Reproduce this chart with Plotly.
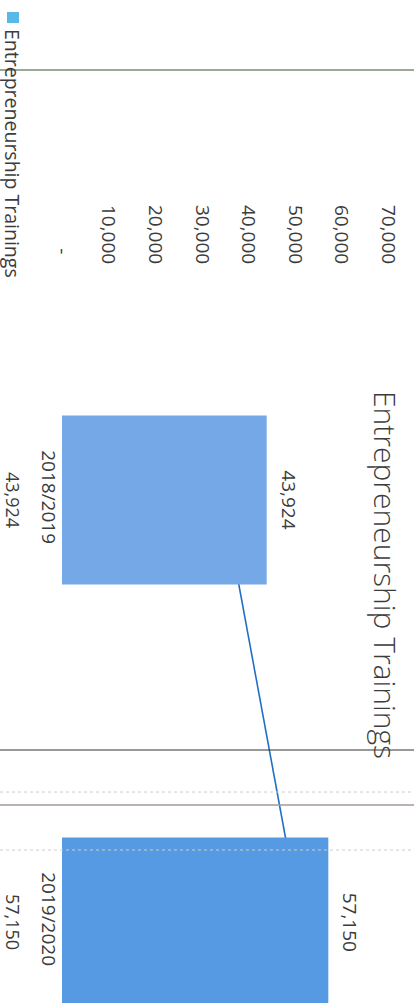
import plotly.graph_objects as go

# ---- data ----
categories = ["2018/2019", "2019/2020"]
trainings = [43924, 57150]
line_values = [34600, 51300]          # blue connecting line as seen on the scan
value_ticks = [0, 10000, 20000, 30000, 40000, 50000, 60000, 70000]
value_tick_labels = ["-\u00a0\u00a0", "10,000", "20,000", "30,000", "40,000", "50,000", "60,000", "70,000"]
series_name = "Entrepreneurship Trainings"
chart_title = "Entrepreneurship Trainings"

bar_colors = ["#74a8e6", "#559ae2"]
text_color = "#3c3c3c"
font_family = "Open Sans"

W, H = 414, 1003
L, R, T, B = 62, 0, 268, 0
plot_w = W - L - R
plot_h = H - T - B
px_per_unit = 46.6 / 10000
x_range = [0, plot_w / px_per_unit]

# category positions (pixel centres) -> axis range
cat_px = 422
c0 = 500
y_top = 0 - (c0 - T) / cat_px
y_bot = 1 + (H - (c0 + cat_px)) / cat_px
y_range = [y_bot, y_top]

def px_x(p):
    return (p - L) / plot_w

def px_y(p):
    return (H - B - p) / plot_h

fig = go.Figure()

# line (underneath the bars)
fig.add_trace(go.Scatter(
    x=line_values, y=categories, mode="lines",
    line=dict(color="#1f6fc4", width=1.6),
    xaxis="x", yaxis="y", showlegend=False, hoverinfo="skip",
))

# bars on overlay axes so they are drawn on top of the line
fig.add_trace(go.Bar(
    x=trainings, y=categories, orientation="h", name=series_name,
    marker=dict(color=bar_colors, line=dict(width=0)),
    xaxis="x2", yaxis="y2", showlegend=False,
))

annotations = []
for c, v in zip(categories, trainings):
    # data labels
    annotations.append(dict(
        x=v, y=c, xref="x2", yref="y2", text=f"{v:,}", showarrow=False,
        textangle=90, xanchor="center", yanchor="middle", xshift=22,
        font=dict(family=font_family, size=19, color=text_color),
    ))
    # data-table value row
    annotations.append(dict(
        x=px_x(13), y=c, xref="paper", yref="y", text=f"{v:,}", showarrow=False,
        textangle=90, xanchor="center", yanchor="middle",
        font=dict(family=font_family, size=18, color=text_color),
    ))

# title
annotations.append(dict(
    x=px_x(386), y=px_y(575), xref="paper", yref="paper", text=chart_title,
    showarrow=False, textangle=90, xanchor="center", yanchor="middle",
    font=dict(family=font_family, size=30, color=text_color, weight=300),
))
# legend text
annotations.append(dict(
    x=px_x(13), y=px_y(153), xref="paper", yref="paper", text=series_name,
    showarrow=False, textangle=90, xanchor="center", yanchor="middle",
    font=dict(family=font_family, size=19.5, color=text_color),
))

shapes = [
    # legend key
    dict(type="rect", xref="paper", yref="paper",
         x0=px_x(7), x1=px_x(19), y0=px_y(23), y1=px_y(12),
         fillcolor="#5ab8e8", line=dict(width=0)),
    # table / border lines from the scan
    dict(type="line", xref="paper", yref="paper", x0=px_x(0), x1=px_x(W),
         y0=px_y(70), y1=px_y(70), line=dict(color="#7d8a72", width=1.5)),
    dict(type="line", xref="paper", yref="paper", x0=px_x(0), x1=px_x(W),
         y0=px_y(750), y1=px_y(750), line=dict(color="#333333", width=1)),
    dict(type="line", xref="paper", yref="paper", x0=px_x(0), x1=px_x(W),
         y0=px_y(792), y1=px_y(792), line=dict(color="#cccccc", width=1, dash="dot")),
    dict(type="line", xref="paper", yref="paper", x0=px_x(0), x1=px_x(W),
         y0=px_y(805), y1=px_y(805), line=dict(color="#a59a9a", width=1.5)),
    dict(type="line", xref="paper", yref="paper", x0=px_x(0), x1=px_x(W),
         y0=px_y(850), y1=px_y(850), line=dict(color="#cccccc", width=1, dash="dot")),
]

axis_font = dict(family=font_family, size=19, color=text_color)

fig.update_layout(
    width=W, height=H,
    margin=dict(l=L, r=R, t=T, b=B, pad=0),
    paper_bgcolor="white", plot_bgcolor="white",
    bargap=0.6,
    showlegend=False,
    xaxis=dict(range=x_range, side="top", tickvals=value_ticks, ticktext=value_tick_labels,
               tickangle=90, showgrid=False, zeroline=False, showline=False,
               ticks="", tickfont=axis_font, fixedrange=True),
    yaxis=dict(type="category", categoryorder="array", categoryarray=categories,
               range=y_range, tickangle=90, showgrid=False, zeroline=False,
               showline=False, ticks="", tickfont=axis_font, fixedrange=True),
    xaxis2=dict(range=x_range, overlaying="x", visible=False, fixedrange=True),
    yaxis2=dict(type="category", categoryorder="array", categoryarray=categories,
                range=y_range, overlaying="y", visible=False, fixedrange=True),
    annotations=annotations,
    shapes=shapes,
)

fig.write_html("out.html", config={"displayModeBar": False},
               post_script="document.body.style.margin='0px';")
